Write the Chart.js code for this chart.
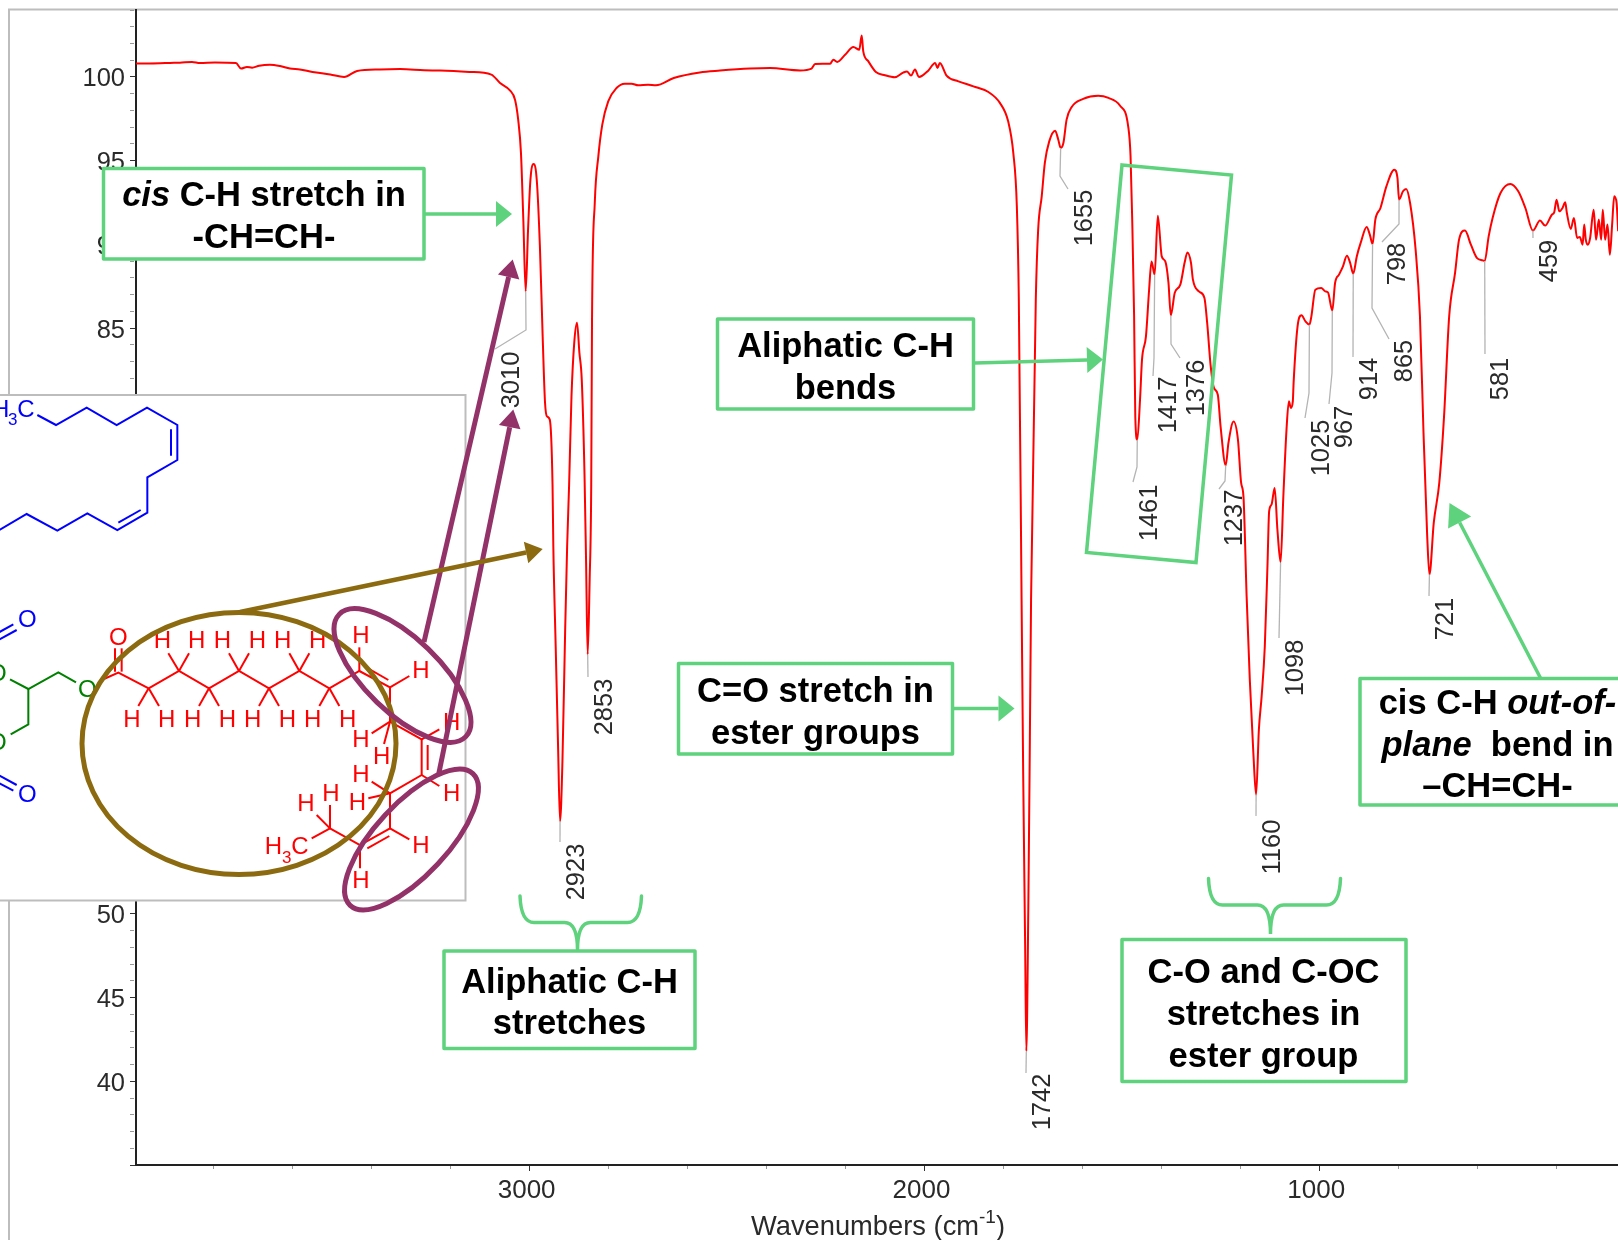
<!DOCTYPE html>
<html>
<head>
<meta charset="utf-8">
<title>FTIR spectrum</title>
<script src="https://cdn.jsdelivr.net/npm/chart.js@4/dist/chart.umd.min.js"></script>
<style>
  html, body { margin: 0; padding: 0; background: #fff; overflow: hidden; }
  canvas { display: block; }
</style>
</head>
<body>
<canvas id="spectrum" width="1618" height="1240"></canvas>
<script>
// values, same row layout in both arrays
const wavenumbers = [
  3997, 3936, 3911, 3886, 3855, 3835, 3797, 3744, 3731, 3716, 3703, 3685, 3658, 3632, 3607, 3582, 3550, 3505, 3470, 3437,
  3379, 3328, 3267, 3227, 3153, 3097, 3075, 3050, 3037, 3029, 3022, 3016, 3010, 3004, 2998, 2990, 2982, 2974, 2967, 2961,
  2956, 2949, 2942, 2940, 2934, 2928, 2923, 2917, 2910, 2905, 2900, 2894, 2887, 2880, 2874, 2868, 2861, 2857, 2853, 2848,
  2844, 2842, 2835, 2826, 2816, 2801, 2780, 2759, 2742, 2725, 2700, 2680, 2635, 2569, 2518, 2442, 2391, 2315, 2286, 2277,
  2239, 2231, 2221, 2201, 2180, 2165, 2159, 2155, 2142, 2123, 2100, 2075, 2054, 2044, 2034, 2024, 2014, 1990, 1973, 1967,
  1961, 1944, 1914, 1876, 1838, 1809, 1788, 1775, 1766, 1761, 1754, 1750, 1745, 1742, 1737, 1733, 1730, 1718, 1712, 1703,
  1695, 1684, 1669, 1661, 1655, 1648, 1640, 1627, 1598, 1560, 1534, 1505, 1484, 1478, 1474, 1469, 1466, 1461, 1454, 1449,
  1439, 1431, 1425, 1417, 1409, 1399, 1390, 1382, 1376, 1366, 1352, 1341, 1334, 1325, 1320, 1305, 1291, 1284, 1275, 1267,
  1257, 1250, 1237, 1230, 1217, 1206, 1198, 1192, 1184, 1176, 1167, 1160, 1153, 1146, 1138, 1131, 1127, 1121, 1113, 1106,
  1098, 1091, 1083, 1077, 1072, 1067, 1065, 1055, 1045, 1035, 1025, 1020, 1010, 995, 985, 978, 967, 960, 950, 940,
  930, 922, 914, 905, 895, 880, 872, 865, 858, 845, 830, 810, 802, 798, 788, 780, 770, 756, 745, 736,
  727, 721, 710, 696, 684, 671, 656, 646, 631, 616, 601, 586, 581, 571, 561, 541, 516, 496, 478, 459,
  441, 428, 411, 405, 399, 392, 384, 377, 373, 363, 355, 347, 340, 333, 329, 325, 320, 314, 305, 299,
  292, 286, 282, 276, 270, 264, 258, 253, 247, 243
];
const transmittance = [
  100.8, 100.82, 100.84, 100.85, 100.9, 100.83, 100.86, 100.83, 100.5, 100.6, 100.55, 100.67, 100.73, 100.65, 100.5, 100.45, 100.3, 100.15, 100.0, 100.36,
  100.45, 100.47, 100.4, 100.38, 100.3, 100.14, 99.64, 99.2, 98.64, 97.45, 95.48, 91.48, 87.19, 90.88, 93.86, 94.8, 93.86, 89.88, 84.5, 80.54,
  79.72, 79.53, 75.64, 71.96, 65.98, 60.01, 55.53, 59.04, 66.98, 71.96, 75.64, 80.92, 84.13, 85.32, 83.53, 81.92, 76.24, 70.98, 65.49, 69.97,
  75.64, 85.5, 92.49, 95.26, 97.15, 98.54, 99.34, 99.6, 99.6, 99.5, 99.54, 99.5, 99.94, 100.27, 100.38, 100.5, 100.53, 100.39, 100.5, 100.78,
  100.79, 101.03, 100.9, 101.33, 101.79, 101.63, 102.47, 101.53, 100.93, 100.3, 100.1, 99.98, 100.26, 100.33, 100.08, 100.44, 100.0, 100.39, 100.84, 100.54,
  100.84, 100.08, 99.74, 99.44, 99.1, 98.45, 97.35, 95.46, 92.27, 86.7, 68.77, 58.5, 48.16, 41.79, 50.25, 60.53, 68.77, 86.7, 90.88, 92.87,
  94.88, 96.15, 96.79, 96.25, 95.76, 96.07, 97.45, 98.21, 98.69, 98.88, 98.75, 98.29, 97.05, 95.26, 91.67, 85.7, 79.72, 78.33, 80.72, 83.11,
  84.5, 87.29, 88.98, 88.19, 91.71, 89.28, 88.98, 87.71, 85.76, 87.11, 87.59, 88.91, 89.52, 88.91, 87.89, 87.19, 86.81, 85.32, 82.71, 81.44,
  81.02, 79.13, 76.8, 78.15, 79.41, 78.33, 75.76, 74.93, 68.97, 64.0, 59.63, 57.12, 61.0, 63.0, 65.98, 70.98, 74.05, 74.45, 75.45, 72.95,
  71.0, 74.95, 78.93, 80.62, 80.23, 80.62, 81.74, 85.1, 85.76, 85.4, 85.2, 85.7, 87.29, 87.39, 87.19, 87.13, 86.04, 87.69, 88.19, 88.69,
  89.32, 88.91, 88.25, 89.28, 90.1, 91.04, 90.58, 90.02, 91.48, 92.17, 93.46, 94.46, 93.97, 92.67, 93.17, 93.31, 92.47, 89.68, 85.7, 78.75,
  72.78, 70.27, 73.37, 75.76, 79.72, 85.7, 88.31, 90.28, 90.82, 89.98, 89.19, 89.04, 89.0, 90.48, 91.58, 93.07, 93.61, 93.17, 92.17, 90.82,
  91.42, 91.12, 91.77, 91.91, 92.67, 91.97, 92.17, 92.51, 91.89, 90.92, 91.58, 90.38, 90.44, 89.98, 91.18, 90.28, 89.98, 90.38, 92.07, 90.28,
  91.48, 90.28, 92.07, 90.28, 91.18, 89.38, 91.28, 92.87, 92.47, 90.78
];
const peakLabels = [3010, 2923, 2853, 1742, 1655, 1461, 1417, 1376, 1237, 1160, 1098, 1025, 967, 914, 865, 798, 721, 581, 459];
const xTickValues = [400, 600, 800, 1000, 1200, 1400, 1600, 1800, 2000, 2200, 2400, 2600, 2800, 3000, 3200, 3400, 3600, 3800];
const xTickLabels = [3000, 2000, 1000];
const yTickLabels = [40, 45, 50, 55, 60, 65, 70, 75, 80, 85, 90, 95, 100];

// where each peak label and its leader sit on the page
const labelLayout = {
  3010: { at: [512, 380], leader: [[526, 330], [495, 349]] },
  2923: { at: [577, 872], leader: [[560, 842]] },
  2853: { at: [605, 707], leader: [[588, 677]] },
  1742: { at: [1043, 1102], leader: [[1026, 1073]] },
  1655: { at: [1085, 218], leader: [[1060, 176], [1068, 189]] },
  1461: { at: [1150, 513], leader: [[1137, 467], [1133, 482]] },
  1417: { at: [1169, 405], leader: [[1154, 358], [1153, 376]] },
  1376: { at: [1197, 388], leader: [[1171, 344], [1180, 358]] },
  1237: { at: [1235, 518], leader: [[1225, 481], [1219, 489]] },
  1160: { at: [1273, 847], leader: [[1256, 816]] },
  1098: { at: [1296, 668], leader: [[1279, 638]] },
  1025: { at: [1322, 448], leader: [[1309, 393], [1305, 418]] },
  967: { at: [1345, 427], leader: [[1332, 373], [1329, 404]] },
  914: { at: [1370, 379], leader: [[1353, 357]] },
  865: { at: [1405, 361], leader: [[1372, 308], [1389, 339]] },
  798: { at: [1398, 264], leader: [[1399, 224], [1382, 242]] },
  721: { at: [1446, 619], leader: [[1429, 596]] },
  581: { at: [1501, 379], leader: [[1485, 354]] },
  459: { at: [1550, 261], leader: [[1533, 238]] }
};

const GREEN = '#5ed27c';
const PURPLE = '#933268';
const BROWN = '#8c6a10';
const AXIS_FONT = '"Liberation Sans", Arial, sans-serif';

function peakT(wn) {
  for (let i = 0; i < wavenumbers.length - 1; i++) {
    if (wn <= wavenumbers[i] && wn >= wavenumbers[i + 1]) {
      const f = (wavenumbers[i] - wn) / (wavenumbers[i] - wavenumbers[i + 1]);
      return transmittance[i] + f * (transmittance[i + 1] - transmittance[i]);
    }
  }
  return 100;
}

function arrow(ctx, x0, y0, x1, y1, color, width, len, half) {
  const a = Math.atan2(y1 - y0, x1 - x0);
  ctx.strokeStyle = color;
  ctx.fillStyle = color;
  ctx.lineWidth = width;
  ctx.lineCap = 'butt';
  ctx.beginPath();
  ctx.moveTo(x0, y0);
  ctx.lineTo(x1 - len * Math.cos(a), y1 - len * Math.sin(a));
  ctx.stroke();
  ctx.beginPath();
  ctx.moveTo(x1, y1);
  ctx.lineTo(x1 - len * Math.cos(a) - half * Math.sin(a), y1 - len * Math.sin(a) + half * Math.cos(a));
  ctx.lineTo(x1 - len * Math.cos(a) + half * Math.sin(a), y1 - len * Math.sin(a) - half * Math.cos(a));
  ctx.closePath();
  ctx.fill();
}

function textLine(ctx, runs, cx, y) {
  let total = 0;
  runs.forEach(r => {
    ctx.font = (r.i ? 'italic ' : '') + 'bold 34.5px ' + AXIS_FONT;
    r.w = ctx.measureText(r.t).width;
    total += r.w;
  });
  let x = cx - total / 2;
  ctx.textAlign = 'left';
  ctx.textBaseline = 'middle';
  ctx.fillStyle = '#000';
  runs.forEach(r => {
    ctx.font = (r.i ? 'italic ' : '') + 'bold 34.5px ' + AXIS_FONT;
    ctx.fillText(r.t, x, y);
    x += r.w;
  });
}

function callout(ctx, box, cx, lines) {
  ctx.fillStyle = '#fff';
  ctx.fillRect(box[0], box[1], box[2] - box[0], box[3] - box[1]);
  ctx.strokeStyle = GREEN;
  ctx.lineWidth = 3.5;
  ctx.lineJoin = 'round';
  ctx.strokeRect(box[0], box[1], box[2] - box[0], box[3] - box[1]);
  lines.forEach(l => textLine(ctx, l.runs, cx, l.y));
}

function brace(ctx, xl, xr, xm, yTop, yMid, yTip) {
  ctx.strokeStyle = GREEN;
  ctx.lineWidth = 3.5;
  ctx.lineCap = 'round';
  ctx.beginPath();
  ctx.moveTo(xl, yTop);
  ctx.quadraticCurveTo(xl + 1, yMid, xl + 14, yMid);
  ctx.lineTo(xm - 13, yMid);
  ctx.quadraticCurveTo(xm, yMid, xm, yTip);
  ctx.quadraticCurveTo(xm, yMid, xm + 13, yMid);
  ctx.lineTo(xr - 14, yMid);
  ctx.quadraticCurveTo(xr - 1, yMid, xr, yTop);
  ctx.stroke();
}

// structure inset, coordinates taken at 3x from the inset corner
function sPath(ctx, pts) {
  ctx.beginPath();
  pts.forEach((p, i) => {
    if (i === 0) ctx.moveTo(p[0] / 3, p[1] / 3 + 390);
    else ctx.lineTo(p[0] / 3, p[1] / 3 + 390);
  });
  ctx.stroke();
}

function sText(ctx, t, x, y, size) {
  ctx.font = (size || 24) + 'px ' + AXIS_FONT;
  ctx.fillText(t, x / 3, y / 3 + 390);
}

function drawStructure(ctx) {
  ctx.fillStyle = '#fff';
  ctx.fillRect(-5, 395, 470.5, 505.5);
  ctx.strokeStyle = '#bdbdbd';
  ctx.lineWidth = 2;
  ctx.strokeRect(-5, 395, 470.5, 505.5);

  ctx.textAlign = 'center';
  ctx.textBaseline = 'middle';
  ctx.lineWidth = 2;
  ctx.lineCap = 'butt';
  ctx.lineJoin = 'miter';

  // blue chain
  ctx.strokeStyle = '#0000ff';
  ctx.fillStyle = '#0000ff';
  sPath(ctx, [[112, 75], [168, 105], [260, 53], [350, 105], [441, 53], [532, 105], [532, 210], [442, 262], [442, 368], [352, 420], [262, 370], [172, 422], [80, 372], [-10, 425]]);
  sPath(ctx, [[513, 118], [513, 197]]);
  sPath(ctx, [[355, 398], [422, 360]]);
  sPath(ctx, [[-5, 728], [40, 703]]);
  sPath(ctx, [[-5, 750], [50, 720]]);
  sPath(ctx, [[-5, 1155], [50, 1185]]);
  sPath(ctx, [[-5, 1178], [40, 1202]]);
  sText(ctx, 'H', 2, 60);
  sText(ctx, '3', 38, 92, 17);
  sText(ctx, 'C', 78, 60);
  sText(ctx, 'O', 82, 692);
  sText(ctx, 'O', 82, 1215);

  // green glycerol part
  ctx.strokeStyle = '#008000';
  ctx.fillStyle = '#008000';
  sPath(ctx, [[30, 868], [85, 897], [175, 847], [228, 877]]);
  sPath(ctx, [[85, 897], [85, 1003], [32, 1033]]);
  sText(ctx, 'O', -8, 852);
  sText(ctx, 'O', -8, 1060);
  sText(ctx, 'O', 262, 900);

  // red chain
  ctx.strokeStyle = '#ff0000';
  ctx.fillStyle = '#ff0000';
  sPath(ctx, [[305, 870], [355, 848], [446, 895], [537, 843], [627, 895], [717, 843], [807, 895], [898, 843], [988, 895], [1078, 843], [1170, 892], [1170, 995], [1265, 1048], [1265, 1155], [1170, 1210], [1170, 1315], [1080, 1365], [990, 1315], [935, 1345]]);
  sPath(ctx, [[345, 775], [345, 845]]);
  sPath(ctx, [[365, 775], [365, 845]]);
  sPath(ctx, [[1095, 830], [1165, 870]]);
  sPath(ctx, [[1283, 1065], [1283, 1140]]);
  sPath(ctx, [[1102, 1375], [1168, 1338]]);
  [[537, 843, 505, 790], [537, 843, 567, 790], [717, 843, 687, 790], [717, 843, 747, 790], [898, 843, 868, 790], [898, 843, 928, 790], [1078, 843, 1078, 772],
   [446, 895, 415, 948], [446, 895, 477, 948], [627, 895, 597, 948], [627, 895, 657, 948], [807, 895, 777, 948], [807, 895, 837, 948], [988, 895, 958, 948], [988, 895, 1018, 948],
   [1170, 892, 1228, 858], [1265, 1048, 1318, 1018], [1170, 995, 1115, 1030], [1170, 995, 1152, 1062], [1265, 1155, 1318, 1188], [1170, 1210, 1115, 1175], [1170, 1210, 1105, 1225],
   [1170, 1315, 1228, 1348], [1080, 1365, 1080, 1435], [990, 1315, 990, 1245], [990, 1315, 950, 1275]].forEach(b => sPath(ctx, [[b[0], b[1]], [b[2], b[3]]]));
  sText(ctx, 'O', 355, 745);
  [[487, 755], [590, 755], [667, 755], [772, 755], [848, 755], [953, 755], [1083, 740],
   [396, 990], [500, 990], [578, 990], [682, 990], [758, 990], [862, 990], [938, 990], [1043, 990],
   [1263, 843], [1355, 1000], [1083, 1052], [1145, 1102], [1355, 1212], [1083, 1157], [1072, 1240],
   [1263, 1370], [1083, 1475], [993, 1212], [918, 1243], [820, 1372]].forEach(p => sText(ctx, 'H', p[0], p[1]));
  sText(ctx, '3', 860, 1405, 17);
  sText(ctx, 'C', 900, 1372);

  // circled regions
  ctx.lineWidth = 5;
  ctx.strokeStyle = BROWN;
  ctx.beginPath();
  ctx.ellipse(239, 743.5, 157, 131, 0, 0, Math.PI * 2);
  ctx.stroke();
  ctx.strokeStyle = PURPLE;
  ctx.beginPath();
  ctx.ellipse(402.5, 675.5, 88, 37, Math.PI * 44 / 180, 0, Math.PI * 2);
  ctx.stroke();
  ctx.beginPath();
  ctx.ellipse(411.5, 839.5, 90, 36, -Math.PI * 47 / 180, 0, Math.PI * 2);
  ctx.stroke();
}

const annotations = {
  id: 'annotations',
  beforeDraw(chart) {
    const ctx = chart.ctx;
    ctx.save();
    ctx.strokeStyle = '#bdbdbd';
    ctx.lineWidth = 2;
    ctx.beginPath();
    ctx.moveTo(9, 1240);
    ctx.lineTo(9, 9.5);
    ctx.lineTo(1618, 9.5);
    ctx.stroke();
    ctx.restore();
  },
  afterDraw(chart) {
    const ctx = chart.ctx;
    const xs = chart.scales.x;
    const ys = chart.scales.y;
    ctx.save();

    // axis title, the exponent needs its own run
    ctx.fillStyle = '#2a2a2a';
    ctx.textAlign = 'left';
    ctx.textBaseline = 'alphabetic';
    ctx.font = '27.3px ' + AXIS_FONT;
    ctx.fillText('Wavenumbers (cm', 751, 1235);
    const w = ctx.measureText('Wavenumbers (cm').width;
    ctx.font = '19px ' + AXIS_FONT;
    ctx.fillText('-1', 751 + w, 1223);
    const w2 = ctx.measureText('-1').width;
    ctx.font = '27.3px ' + AXIS_FONT;
    ctx.fillText(')', 751 + w + w2, 1235);

    // peak leaders and labels
    peakLabels.forEach(wn => {
      const l = labelLayout[wn];
      ctx.strokeStyle = '#b4b4b4';
      ctx.lineWidth = 1.3;
      ctx.beginPath();
      ctx.moveTo(xs.getPixelForValue(wn), ys.getPixelForValue(peakT(wn)));
      l.leader.forEach(p => ctx.lineTo(p[0], p[1]));
      ctx.stroke();
      ctx.save();
      ctx.translate(l.at[0], l.at[1]);
      ctx.rotate(-Math.PI / 2);
      ctx.font = '25.5px ' + AXIS_FONT;
      ctx.fillStyle = '#2a2a2a';
      ctx.textAlign = 'center';
      ctx.textBaseline = 'middle';
      ctx.fillText(String(wn), 0, 0);
      ctx.restore();
    });

    drawStructure(ctx);

    // tilted frame round the bends
    ctx.strokeStyle = GREEN;
    ctx.lineWidth = 3.5;
    ctx.lineJoin = 'miter';
    ctx.beginPath();
    ctx.moveTo(1122, 165);
    ctx.lineTo(1231.5, 175);
    ctx.lineTo(1196, 562.5);
    ctx.lineTo(1086.5, 552.5);
    ctx.closePath();
    ctx.stroke();

    arrow(ctx, 424, 214, 512, 214, GREEN, 3.5, 16, 13);
    arrow(ctx, 975, 363, 1103, 359.5, GREEN, 3.5, 16, 13);
    arrow(ctx, 952, 708.5, 1014.5, 708.5, GREEN, 3.5, 16, 13);
    arrow(ctx, 1541, 679, 1449.5, 503, GREEN, 3.5, 22, 13);
    arrow(ctx, 424, 642, 512.7, 259.5, PURPLE, 5, 18, 11);
    arrow(ctx, 438.5, 775, 513.3, 409.5, PURPLE, 5, 18, 11);
    arrow(ctx, 240, 612, 542.7, 549, BROWN, 4.5, 17, 11);

    brace(ctx, 520, 641.5, 577.5, 896, 922.5, 950);
    brace(ctx, 1208.5, 1340.5, 1270.5, 878.5, 905, 934);

    callout(ctx, [103.5, 168.5, 424, 259], 264, [
      { y: 196.5, runs: [{ t: 'cis', i: true }, { t: ' C-H stretch in' }] },
      { y: 238.5, runs: [{ t: '-CH=CH-' }] }
    ]);
    callout(ctx, [444, 951, 695, 1048.5], 569.5, [
      { y: 983.5, runs: [{ t: 'Aliphatic C-H' }] },
      { y: 1024.5, runs: [{ t: 'stretches' }] }
    ]);
    callout(ctx, [717.5, 319, 973.5, 409], 845.5, [
      { y: 347.5, runs: [{ t: 'Aliphatic C-H' }] },
      { y: 389.5, runs: [{ t: 'bends' }] }
    ]);
    callout(ctx, [678.5, 663.5, 952.5, 754], 815.5, [
      { y: 692.5, runs: [{ t: 'C=O stretch in' }] },
      { y: 734.5, runs: [{ t: 'ester groups' }] }
    ]);
    callout(ctx, [1122, 939.5, 1406, 1081.5], 1263.5, [
      { y: 973.5, runs: [{ t: 'C-O and C-OC' }] },
      { y: 1015.5, runs: [{ t: 'stretches in' }] },
      { y: 1057.5, runs: [{ t: 'ester group' }] }
    ]);
    callout(ctx, [1360, 678.5, 1660, 805], 1497.5, [
      { y: 704.5, runs: [{ t: 'cis C-H ' }, { t: 'out-of-', i: true }] },
      { y: 746.5, runs: [{ t: 'plane', i: true }, { t: '  bend in' }] },
      { y: 787.5, runs: [{ t: '\u2013CH=CH-' }] }
    ]);
    ctx.restore();
  }
};

const ctx = document.getElementById('spectrum').getContext('2d');
const spectrumChart = new Chart(ctx, {
  type: 'line',
  data: {
    datasets: [{
      label: 'Transmittance',
      data: wavenumbers.map((x, i) => ({ x: x, y: transmittance[i] })),
      borderColor: '#ff0000',
      borderWidth: 2,
      pointRadius: 0,
      cubicInterpolationMode: 'monotone'
    }]
  },
  options: {
    responsive: false,
    animation: false,
    layout: { autoPadding: false, padding: { top: 10, left: 0, right: 0, bottom: 0 } },
    plugins: { legend: { display: false }, tooltip: { enabled: false } },
    scales: {
      x: {
        type: 'linear',
        reverse: true,
        bounds: 'data',
        min: 243.4,
        max: 3997,
        afterFit: s => { s.height = 75; s.paddingLeft = 0; s.paddingRight = 0; },
        afterBuildTicks: s => { s.ticks = xTickValues.map(v => ({ value: v })); },
        border: { color: '#222', width: 2 },
        grid: {
          drawOnChartArea: false,
          tickLength: 6,
          tickColor: c => c.tick && c.tick.value % 1000 === 0 ? '#333' : '#999',
          tickBorderDash: c => c.tick && c.tick.value % 1000 === 0 ? [] : [3, 20],
          tickWidth: 1
        },
        ticks: {
          autoSkip: false,
          maxRotation: 0,
          padding: 4,
          labelOffset: -3,
          color: '#2a2a2a',
          font: { family: AXIS_FONT, size: 26 },
          callback: v => xTickLabels.includes(v) ? String(v) : ''
        }
      },
      y: {
        type: 'linear',
        bounds: 'data',
        min: 35,
        max: 104,
        afterFit: s => { s.width = 136; s.paddingTop = 0; s.paddingBottom = 0; },
        border: { color: '#222', width: 2 },
        grid: {
          drawOnChartArea: false,
          tickLength: 6,
          tickColor: c => c.tick && c.tick.value % 5 === 0 ? '#333' : '#999',
          tickBorderDash: c => c.tick && c.tick.value % 5 === 0 ? [] : [4, 20],
          tickWidth: 1
        },
        ticks: {
          stepSize: 1,
          includeBounds: false,
          autoSkip: false,
          padding: 5,
          labelOffset: 2.5,
          color: '#2a2a2a',
          font: { family: AXIS_FONT, size: 25.5 },
          callback: v => yTickLabels.includes(v) ? String(v) : ''
        }
      }
    }
  },
  plugins: [annotations]
});
</script>
</body>
</html>
